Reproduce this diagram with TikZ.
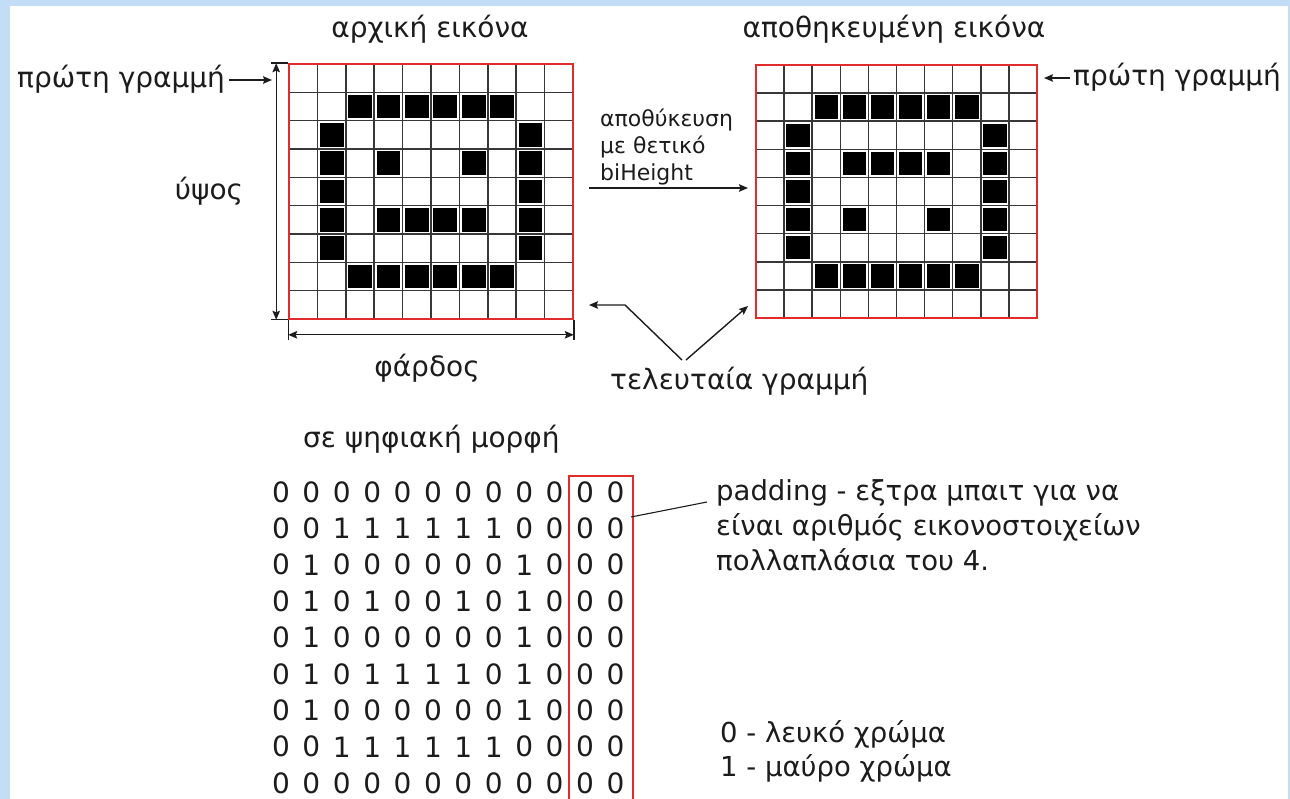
\documentclass[tikz,border=0pt]{standalone}
\usepackage{fontspec}
\setmainfont{DejaVu Sans}
\usetikzlibrary{arrows.meta}
\definecolor{bgblue}{RGB}{196,221,247}
\definecolor{gridred}{RGB}{226,44,44}
\definecolor{gridgray}{RGB}{55,55,55}
\definecolor{ink}{RGB}{28,28,28}
\begin{document}
\begin{tikzpicture}[x=1pt,y=-1pt,
  lbl/.style={inner sep=0pt, text=ink, font=\fontsize{28}{33}\selectfont},
  padlbl/.style={inner sep=0pt, text=ink, font=\fontsize{27.5}{33}\selectfont},
  smalllbl/.style={inner sep=0pt, text=ink, font=\fontsize{22}{27}\selectfont},
  digit/.style={inner sep=0pt, text=ink, font=\fontsize{28}{32}\selectfont},
  gridline/.style={draw=gridgray, line width=1.5pt},
  gridbox/.style={draw=gridred, line width=1.6pt, inner sep=0pt, fill=none},
  cellfill/.style={fill=black},
  arr/.style={-{Stealth[length=9pt,width=7.5pt,inset=1.5pt]}, line width=1.4pt, draw=ink},
  dimarr/.style={{Stealth[length=9pt,width=7.5pt,inset=1.5pt]}-{Stealth[length=9pt,width=7.5pt,inset=1.5pt]}, line width=1.4pt, draw=ink},
  tick/.style={line width=1.4pt, draw=ink},
  leader/.style={line width=1.1pt, draw=ink}
]
\useasboundingbox (0,0) rectangle (1290,799);
\fill[bgblue] (0,0) rectangle (1290,799);
\fill[white] (10,6) rectangle (1288,799);

% ---------- original image grid ----------
\foreach \c/\r in {2/1,3/1,4/1,5/1,6/1,7/1,
                   1/2,8/2,
                   1/3,3/3,6/3,8/3,
                   1/4,8/4,
                   1/5,3/5,4/5,5/5,6/5,8/5,
                   1/6,8/6,
                   2/7,3/7,4/7,5/7,6/7,7/7}
  \fill[cellfill] ({289+28.4*\c+2.3},{64+28.333*\r+2.3}) rectangle ++(23.8,23.7);
\foreach \i in {1,...,9}
  \draw[gridline] ({289+28.4*\i},64) -- ++(0,255);
\foreach \j in {1,...,8}
  \draw[gridline] (289,{64+28.333*\j}) -- ++(284,0);
\node[gridbox, minimum width=284pt, minimum height=255pt] (orig) at (431,191.5) {};

% ---------- stored image grid ----------
\foreach \c/\r in {2/1,3/1,4/1,5/1,6/1,7/1,
                   1/2,8/2,
                   1/3,3/3,4/3,5/3,6/3,8/3,
                   1/4,8/4,
                   1/5,3/5,6/5,8/5,
                   1/6,8/6,
                   2/7,3/7,4/7,5/7,6/7,7/7}
  \fill[cellfill] ({756+28.1*\c+2.3},{65+28.111*\r+2.3}) rectangle ++(23.5,23.5);
\foreach \i in {1,...,9}
  \draw[gridline] ({756+28.1*\i},65) -- ++(0,253);
\foreach \j in {1,...,8}
  \draw[gridline] (756,{65+28.111*\j}) -- ++(281,0);
\node[gridbox, minimum width=281pt, minimum height=253pt] (stor) at (896.5,191.5) {};

% ---------- titles ----------
\node[lbl, anchor=base] (t1) at (430,38) {αρχική εικόνα};
\node[lbl, anchor=base] (t2) at (894,38) {αποθηκευμένη εικόνα};

% ---------- height dimension ----------
\draw[tick] ([xshift=-17pt]orig.north west) -- (orig.north west);
\draw[tick] ([xshift=-17pt]orig.south west) -- (orig.south west);
\draw[dimarr] ([xshift=-12pt]orig.north west) -- ([xshift=-12pt]orig.south west);
\node[lbl, anchor=base] (hgt) at (209,200) {ύψος};

% ---------- width dimension ----------
\draw[tick] (orig.south west) -- ([yshift=-20pt]orig.south west);
\draw[tick] (orig.south east) -- ([yshift=-20pt]orig.south east);
\draw[dimarr] ([yshift=-15pt]orig.south west) -- ([yshift=-15pt]orig.south east);
\node[lbl, anchor=base] (wdt) at (427,377) {φάρδος};

% ---------- first row labels ----------
\node[lbl, anchor=base west] (fr1) at (17,88) {πρώτη γραμμή};
\coordinate (fr1end) at (272,80);
\draw[arr] ([xshift=4pt]fr1.east |- fr1end) -- (fr1end);
\node[lbl, anchor=base west] (fr2) at (1073,86) {πρώτη γραμμή};
\coordinate (fr2end) at (1044,78);
\draw[arr] ([xshift=-3pt]fr2.west |- fr2end) -- (fr2end);

% ---------- storing label ----------
\node[smalllbl, anchor=base west] (sv1) at (600,126.5) {αποθύκευση};
\node[smalllbl, anchor=base west] (sv2) at (600,153.5) {με θετικό};
\node[smalllbl, anchor=base west] (sv3) at (600,180.5) {biHeight};
\coordinate (svs) at (589,188);
\coordinate (sve) at (748,188);
\draw[arr] (svs) -- (sve);

% ---------- last row ----------
\node[lbl, anchor=base west] (last) at (610,389) {τελευταία γραμμή};
\coordinate (lra) at (682,360);
\coordinate (lrk) at (625,305);
\coordinate (lrl) at (589,305);
\coordinate (lrb) at (686,360);
\coordinate (lrr) at (748,306);
\draw[arr] (lra) -- (lrk) -- (lrl);
\draw[arr] (lrb) -- (lrr);

% ---------- digital form ----------
\node[lbl, anchor=base west] (dig) at (303,447) {σε ψηφιακή μορφή};
\foreach \row [count=\r from 0] in {
  {0,0,0,0,0,0,0,0,0,0,0,0},
  {0,0,1,1,1,1,1,1,0,0,0,0},
  {0,1,0,0,0,0,0,0,1,0,0,0},
  {0,1,0,1,0,0,1,0,1,0,0,0},
  {0,1,0,0,0,0,0,0,1,0,0,0},
  {0,1,0,1,1,1,1,0,1,0,0,0},
  {0,1,0,0,0,0,0,0,1,0,0,0},
  {0,0,1,1,1,1,1,1,0,0,0,0},
  {0,0,0,0,0,0,0,0,0,0,0,0}} {
  \foreach \d [count=\c from 0] in \row {
    \node[digit] (d-\r-\c) at ({281+30.4*\c},{492+36.4*\r}) {\d};
  }
}
\draw[draw=gridred, line width=1.5pt] (569,805) -- (569,476) -- (633,476) -- (633,805);

% ---------- padding note ----------
\node[padlbl, anchor=base west] (pd1) at (716,500) {padding - εξτρα μπαιτ για να};
\node[padlbl, anchor=base west] (pd2) at (716,535) {είναι αριθμός εικονοστοιχείων};
\node[padlbl, anchor=base west] (pd3) at (716,570) {πολλαπλάσια του 4.};
\coordinate (pds) at (631,517);
\coordinate (pde) at (707,502);
\draw[leader] (pds) -- (pde);

% ---------- legend ----------
\node[padlbl, anchor=base west] (lg1) at (720,742) {0 - λευκό χρώμα};
\node[padlbl, anchor=base west] (lg2) at (720,776) {1 - μαύρο χρώμα};
\end{tikzpicture}
\end{document}
